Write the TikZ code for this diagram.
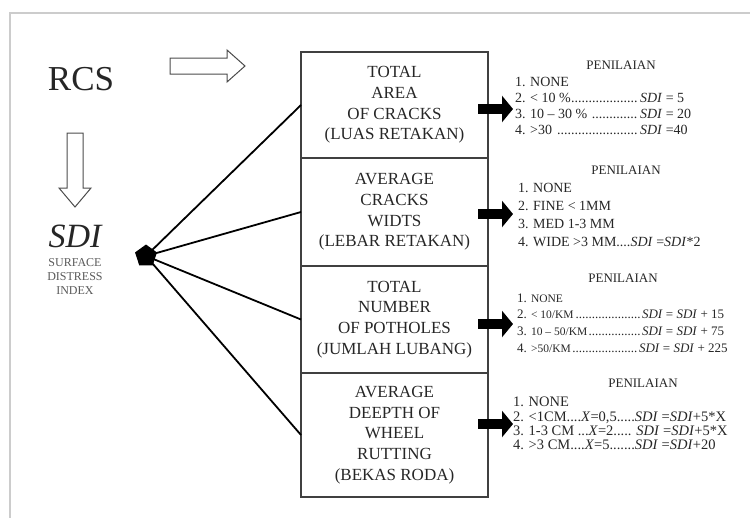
\documentclass[tikz,border=0pt]{standalone}
\usepackage{fontspec}
\setmainfont{Liberation Serif}
\usetikzlibrary{arrows.meta, positioning, shapes.geometric, calc}

\newcommand{\dotsto}[2]{\makebox[#1][l]{#2\leaders\hbox{.}\hfill}}
\newcommand{\shrink}[1]{{\fontsize{11.5}{16.7}\selectfont #1}}

\begin{document}
\begin{tikzpicture}[
    x=1pt, y=-1pt,
    every node/.style={inner sep=0pt, outer sep=0pt, text=black!85},
    factor/.style={draw=black!75, line width=1.2pt, minimum width=187pt,
                   align=center, font=\fontsize{17}{20.7}\selectfont},
    heading/.style={font=\fontsize{13}{15}\selectfont},
    rating/.style={anchor=west, align=left},
    spoke/.style={line width=1.8pt},
    hollow/.style={draw=black!70, fill=white, line width=1pt},
    fat/.style={line width=10pt, -{Triangle[length=11pt, width=26pt]}},
    pageframe/.style={draw=black!20, line width=1.5pt},
]
\useasboundingbox (0,0) rectangle (750,517);

% --------- Outer frame ----------
\draw[pageframe] (752,13) -- (10,13) -- (10,519);

% --------- RCS / SDI (left) ----------
\node[font=\fontsize{35}{40}\selectfont] (rcs) at (81,79) {RCS};
\node[font=\fontsize{34}{38}\selectfont\itshape] (sdi) at (75,236) {SDI};
\node[align=center, font=\fontsize{12}{14}\selectfont, text=black!65] (sdiname) at (75,277)
     {SURFACE\\DISTRESS\\INDEX};

\draw[hollow] (170,58) -- (227,58) -- (227,50) -- (245,66) -- (227,82) -- (227,74) -- (170,74) -- cycle;
\draw[hollow] (67,133) -- (83,133) -- (83,188) -- (91,188) -- (75,207) -- (59,188) -- (67,188) -- cycle;

% --------- Distress factors (middle) ----------
\node[factor, minimum height=106pt]                    (area)     at (394.5,105) {TOTAL\\AREA\\OF CRACKS\\(LUAS RETAKAN)};
\node[factor, minimum height=108pt, below=0pt of area]     (widths)   {AVERAGE\\CRACKS\\WIDTS\\(LEBAR RETAKAN)};
\node[factor, minimum height=107pt, below=0pt of widths]   (potholes) {TOTAL\\NUMBER\\OF POTHOLES\\(JUMLAH LUBANG)};
\node[factor, minimum height=124pt, below=0pt of potholes] (rutting)  {AVERAGE\\DEEPTH OF\\WHEEL\\RUTTING\\(BEKAS RODA)};

\node[regular polygon, regular polygon sides=5, fill=black, minimum size=23pt] (hub) at (146,256) {};
\foreach \f in {area,widths,potholes,rutting}
  \draw[spoke] (hub.center) -- (\f.west);

% --------- Ratings (right) ----------
\node[heading] (pen1) at (621,65) {PENILAIAN};
\node[rating, font=\fontsize{14}{16}\selectfont] (list1) at (515,106) {1. NONE\\
  \dotsto{125pt}{2. < 10 \%}\textit{SDI} = 5\\
  \dotsto{125pt}{3. 10 -- 30 \% }\textit{SDI} = 20\\
  \dotsto{125pt}{4. >30 }\textit{SDI} =40};

\node[heading] (pen2) at (626,170) {PENILAIAN};
\node[rating, font=\fontsize{14}{18}\selectfont] (list2) at (518,215) {1. NONE\\
  2. FINE < 1MM\\
  3. MED 1-3 MM\\
  4. WIDE >3 MM....\textit{SDI} =\textit{SDI}*2};

\node[heading] (pen3) at (623,278) {PENILAIAN};
\node[rating, font=\fontsize{13}{16.7}\selectfont] (list3) at (517,323) {1. \shrink{NONE}\\
  \dotsto{125pt}{2. \shrink{< 10/KM}}\textit{SDI} = \textit{SDI} + 15\\
  \dotsto{125pt}{3. \shrink{10 -- 50/KM}}\textit{SDI} = \textit{SDI} + 75\\
  \dotsto{122pt}{4. \shrink{>50/KM}}\textit{SDI} = \textit{SDI} + 225};

\node[heading] (pen4) at (643,383) {PENILAIAN};
\node[rating, font=\fontsize{14.5}{14.3}\selectfont] (list4) at (513,423.5) {1. NONE\\
  2. <1CM....\textit{X}=0,5.....\textit{SDI} =\textit{SDI}+5*X\\
  3. 1-3 CM ...\textit{X}=2..... \textit{SDI} =\textit{SDI}+5*X\\
  4. >3 CM....\textit{X}=5.......\textit{SDI} =\textit{SDI}+20};

% box -> rating arrows
\draw[fat] ($(area.east |- 0,109)+(-10,0)$)     -- ($(list1.west |- 0,109)+(-2,0)$);
\draw[fat] ($(widths.east |- 0,214)+(-10,0)$)   -- ($(list1.west |- 0,214)+(-2,0)$);
\draw[fat] ($(potholes.east |- 0,324)+(-10,0)$) -- ($(list1.west |- 0,324)+(-2,0)$);
\draw[fat] ($(rutting.east |- 0,424)+(-10,0)$)  -- ($(list1.west |- 0,424)+(-2,0)$);

\end{tikzpicture}
\end{document}
